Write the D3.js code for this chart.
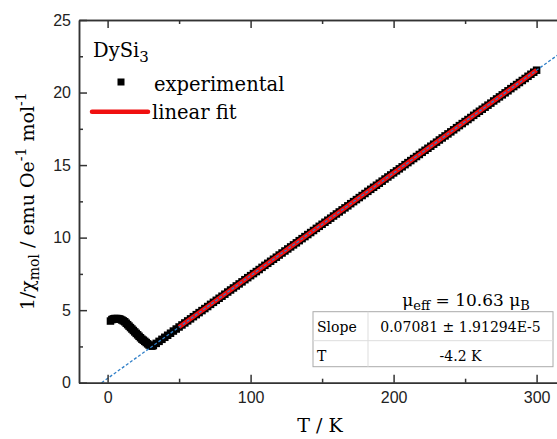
<!DOCTYPE html>
<html>
<head>
<meta charset="utf-8">
<script src="https://cdn.jsdelivr.net/npm/d3@7"></script>
<style>
  body { margin: 0; background: #fff; }
  svg { display: block; }
</style>
</head>
<body>
<svg id="chart" width="557" height="439"></svg>
<script>
// Measured data: temperature (K) and inverse susceptibility
const temps = [2, 3, 4, 5, 6, 7, 8, 9, 10, 11, 12, 13, 14, 15, 16, 17, 18, 19, 20,
  21, 22, 23, 24, 25, 26, 27, 28, 29, 30, 31, 32, 34, 36, 38, 40, 42, 44, 46, 48,
  50, 52, 54, 56, 58, 60, 62, 64, 66, 68, 70, 72, 74, 76, 78, 80, 82, 84, 86, 88,
  90, 92, 94, 96, 98, 100, 102, 104, 106, 108, 110, 112, 114, 116, 118, 120,
  122, 124, 126, 128, 130, 132, 134, 136, 138, 140, 142, 144, 146, 148, 150,
  152, 154, 156, 158, 160, 162, 164, 166, 168, 170, 172, 174, 176, 178, 180,
  182, 184, 186, 188, 190, 192, 194, 196, 198, 200, 202, 204, 206, 208, 210,
  212, 214, 216, 218, 220, 222, 224, 226, 228, 230, 232, 234, 236, 238, 240,
  242, 244, 246, 248, 250, 252, 254, 256, 258, 260, 262, 264, 266, 268, 270,
  272, 274, 276, 278, 280, 282, 284, 286, 288, 290, 292, 294, 296, 298, 300];
const invChi = [4.25, 4.35, 4.4, 4.42, 4.42, 4.42, 4.4, 4.37, 4.32, 4.26, 4.2, 4.1, 4.0, 3.9, 3.8, 3.7, 3.6, 3.5, 3.4,
  3.3, 3.2, 3.1, 3.0, 2.93, 2.85, 2.77, 2.68, 2.6, 2.55, 2.52, 2.56, 2.71, 2.85, 2.99, 3.13, 3.27, 3.41, 3.56, 3.70,
  3.84, 3.98, 4.12, 4.26, 4.40, 4.55, 4.69, 4.83, 4.97, 5.11, 5.25, 5.40, 5.54, 5.68, 5.82, 5.96, 6.10, 6.25, 6.39, 6.53,
  6.67, 6.81, 6.95, 7.10, 7.24, 7.38, 7.52, 7.66, 7.80, 7.95, 8.09, 8.23, 8.37, 8.51, 8.65, 8.80,
  8.94, 9.08, 9.22, 9.36, 9.50, 9.64, 9.79, 9.93, 10.07, 10.21, 10.35, 10.49, 10.64, 10.78, 10.92,
  11.06, 11.20, 11.34, 11.49, 11.63, 11.77, 11.91, 12.05, 12.19, 12.34, 12.48, 12.62, 12.76, 12.90, 13.04,
  13.19, 13.33, 13.47, 13.61, 13.75, 13.89, 14.04, 14.18, 14.32, 14.46, 14.60, 14.74, 14.88, 15.03, 15.17,
  15.31, 15.45, 15.59, 15.73, 15.88, 16.02, 16.16, 16.30, 16.44, 16.58, 16.73, 16.87, 17.01, 17.15, 17.29,
  17.43, 17.58, 17.72, 17.86, 18.00, 18.14, 18.28, 18.43, 18.57, 18.71, 18.85, 18.99, 19.13, 19.27, 19.42,
  19.56, 19.70, 19.84, 19.98, 20.12, 20.27, 20.41, 20.55, 20.69, 20.83, 20.97, 21.12, 21.26, 21.40, 21.54];

// Curie-Weiss fit results
const fitSlope = 0.07081;
const fitTheta = -4.2;
const fitRange = [50, 300];

const xTicks = [0, 100, 200, 300];
const xMinor = [50, 150, 250];
const yTicks = [0, 5, 10, 15, 20, 25];
const yMinor = [2.5, 7.5, 12.5, 17.5, 22.5];

const tableRows = [['Slope', '0.07081 \u00b1 1.91294E-5'], ['T', '-4.2 K']];

const serif = '"DejaVu Serif", serif';
const sans = '"Liberation Sans", Arial, sans-serif';
const red = '#f01010';

const svg = d3.select('#chart');
const mLeft = 79, mTop = 20, mBottom = 382.7;

const x = d3.scaleLinear().domain([-20, 320]).range([mLeft, mLeft + 340 * 1.43]);
const y = d3.scaleLinear().domain([0, 25]).range([mBottom, mTop]);

const fitLine = t => fitSlope * (t - fitTheta);

// experimental points (dense squares)
const pts = temps.map((t, i) => ({ t, v: invChi[i] }));
const sq = 7.5;
svg.append('g')
  .selectAll('rect')
  .data(pts)
  .join('rect')
  .attr('x', d => x(d.t) - sq / 2)
  .attr('y', d => y(d.v) - sq / 2)
  .attr('width', sq)
  .attr('height', sq)
  .attr('fill', '#000');

// red linear fit
svg.append('line')
  .attr('x1', x(fitRange[0])).attr('y1', y(fitLine(fitRange[0])))
  .attr('x2', x(fitRange[1])).attr('y2', y(fitLine(fitRange[1])))
  .attr('stroke', red)
  .attr('stroke-width', 4.5);

// blue dashed extrapolation
svg.append('line')
  .attr('x1', x(fitTheta)).attr('y1', y(0))
  .attr('x2', x(320)).attr('y2', y(fitLine(320)))
  .attr('stroke', '#2f7fc8')
  .attr('stroke-width', 1.3)
  .attr('stroke-dasharray', '3,2');

// axes
function styleAxis(g) {
  g.select('.domain').attr('stroke', '#333').attr('stroke-width', 1.5);
  g.selectAll('.tick line').attr('stroke', '#333').attr('stroke-width', 1.5);
  g.selectAll('.tick text').attr('font-family', sans).attr('font-size', 16).attr('fill', '#222');
}

svg.append('g')
  .attr('transform', `translate(0,${mBottom})`)
  .call(d3.axisBottom(x).tickValues(xTicks).tickSize(-8).tickPadding(9).tickSizeOuter(0))
  .call(styleAxis);
svg.append('g')
  .attr('transform', `translate(0,${mBottom})`)
  .call(d3.axisBottom(x).tickValues(xMinor).tickSize(-4).tickFormat('').tickSizeOuter(0))
  .call(styleAxis);
svg.append('g')
  .attr('transform', `translate(0,${mTop})`)
  .call(d3.axisTop(x).tickValues(xTicks).tickSize(-8).tickFormat('').tickSizeOuter(0))
  .call(styleAxis);
svg.append('g')
  .attr('transform', `translate(0,${mTop})`)
  .call(d3.axisTop(x).tickValues(xMinor).tickSize(-4).tickFormat('').tickSizeOuter(0))
  .call(styleAxis);
svg.append('g')
  .attr('transform', `translate(${mLeft},0)`)
  .call(d3.axisLeft(y).tickValues(yTicks).tickSize(-8).tickPadding(8).tickSizeOuter(0))
  .call(styleAxis);
svg.append('g')
  .attr('transform', `translate(${mLeft},0)`)
  .call(d3.axisLeft(y).tickValues(yMinor).tickSize(-4).tickFormat('').tickSizeOuter(0))
  .call(styleAxis);

// axis titles
svg.append('text')
  .attr('x', 320).attr('y', 432)
  .attr('text-anchor', 'middle')
  .attr('font-family', serif).attr('font-size', 19)
  .text('T / K');

const yt = svg.append('text')
  .attr('transform', `translate(34,${(mTop + mBottom) / 2}) rotate(-90)`)
  .attr('text-anchor', 'middle')
  .attr('font-family', serif).attr('font-size', 19);
yt.append('tspan').text('1/\u03c7');
yt.append('tspan').attr('dy', 5).attr('font-size', 14).text('mol');
yt.append('tspan').attr('dy', -5).text(' / emu Oe');
yt.append('tspan').attr('dy', -8).attr('font-size', 14).text('-1');
yt.append('tspan').attr('dy', 8).text(' mol');
yt.append('tspan').attr('dy', -8).attr('font-size', 14).text('-1');

// legend
const lg = svg.append('g').attr('font-family', serif).attr('font-size', 19.5);
const ttl = lg.append('text').attr('x', 93).attr('y', 57);
ttl.append('tspan').text('DySi');
ttl.append('tspan').attr('dy', 5).attr('font-size', 15).text('3');
lg.append('rect')
  .attr('x', 121 - 3.5).attr('y', 82 - 3.5)
  .attr('width', 7).attr('height', 7)
  .attr('fill', '#000');
lg.append('text').attr('x', 154).attr('y', 91).text('experimental');
lg.append('line')
  .attr('x1', 92).attr('x2', 148)
  .attr('y1', 111.7).attr('y2', 111.7)
  .attr('stroke', red).attr('stroke-width', 4.5)
  .attr('stroke-linecap', 'round');
lg.append('text').attr('x', 152).attr('y', 119).text('linear fit');

// effective moment note
const mu = svg.append('text')
  .attr('x', 466).attr('y', 306)
  .attr('text-anchor', 'middle')
  .attr('font-family', serif).attr('font-size', 17);
mu.append('tspan').text('\u03bc');
mu.append('tspan').attr('dy', 4).attr('font-size', 13).text('eff');
mu.append('tspan').attr('dy', -4).text(' = 10.63 \u03bc');
mu.append('tspan').attr('dy', 4).attr('font-size', 13).text('B');

// fit table
const tbl = svg.append('g').attr('font-family', serif).attr('font-size', 14);
const tx0 = 313, tx1 = 368, tx2 = 553, ty0 = 311.7, ty1 = 340.7, ty2 = 366.7;
tbl.append('rect')
  .attr('x', tx0).attr('y', ty0)
  .attr('width', tx2 - tx0).attr('height', ty2 - ty0)
  .attr('fill', '#fff').attr('stroke', '#aaa');
tbl.append('line').attr('x1', tx0).attr('x2', tx2).attr('y1', ty1).attr('y2', ty1).attr('stroke', '#ddd');
tbl.append('line').attr('x1', tx1).attr('x2', tx1).attr('y1', ty0).attr('y2', ty2).attr('stroke', '#ddd');
tbl.selectAll('.lab')
  .data(tableRows)
  .join('text')
  .attr('x', tx0 + 4)
  .attr('y', (d, i) => [ty0, ty1][i] + 20)
  .text(d => d[0]);
tbl.selectAll('.val')
  .data(tableRows)
  .join('text')
  .attr('x', (tx1 + tx2) / 2)
  .attr('y', (d, i) => [ty0, ty1][i] + 20)
  .attr('text-anchor', 'middle')
  .text(d => d[1]);
</script>
</body>
</html>
